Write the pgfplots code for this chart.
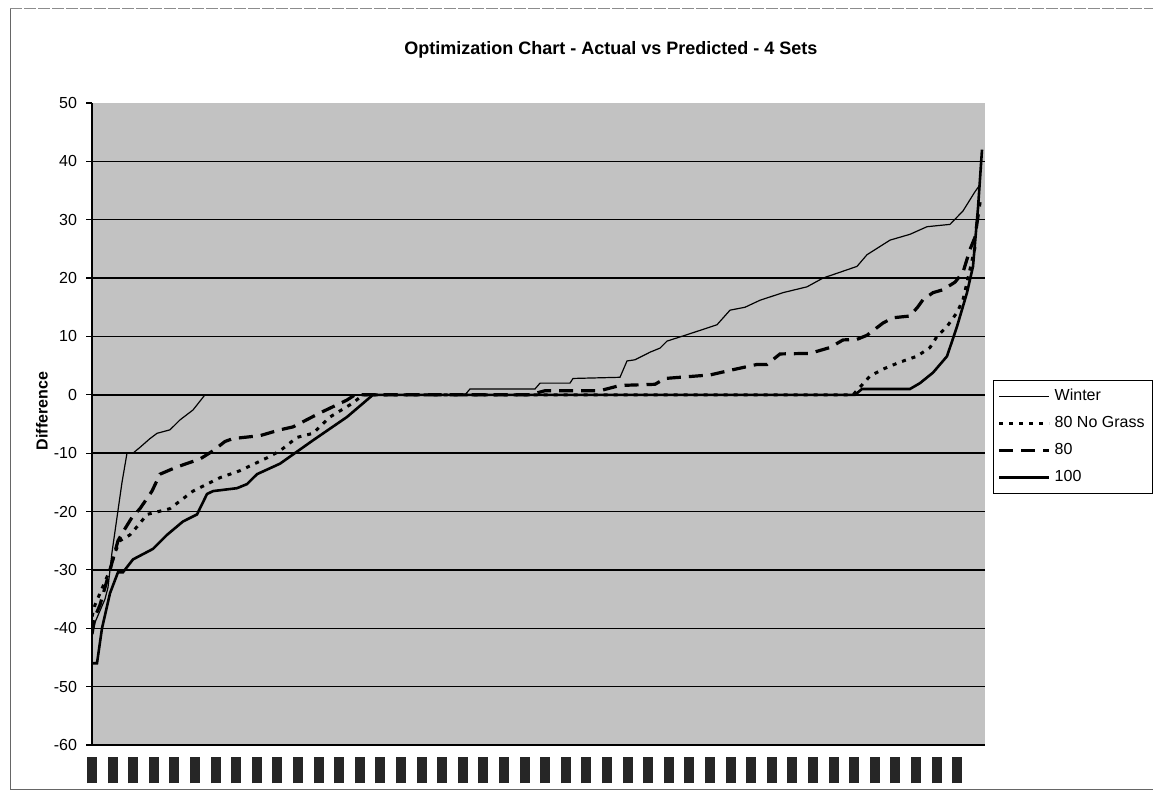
\documentclass[border=0pt]{standalone}
\usepackage{fontspec}
\setmainfont{Liberation Sans}
\usepackage{pgfplots}
\pgfplotsset{compat=1.18}
\definecolor{plotbg}{RGB}{194,194,194}
\begin{document}
\begin{tikzpicture}
\path[use as bounding box] (0,0) rectangle (576.5pt,401pt);
\draw[black!60, line width=0.5pt] (576.5pt,6pt) -- (5pt,6pt) -- (5pt,397pt);
\draw[black!45, line width=0.4pt, dash pattern=on 6pt off 1pt] (5pt,397pt) -- (576.5pt,397pt);
\begin{axis}[
  at={(46pt,28.5pt)}, anchor=south west,
  scale only axis, width=446.5pt, height=321pt,
  xmin=92, xmax=985, ymin=-60, ymax=50,
  axis background/.style={fill=plotbg},
  axis x line*=bottom, axis y line*=left,
  axis line style={-, black, line width=0.7pt},
  ytick={-60,-50,...,40},
  extra y ticks={50}, extra y tick style={ymajorgrids=false, yminorgrids=false},
  ymajorgrids, major grid style={black, line width=0.7pt},
  tick align=outside, ytick style={black, line width=0.6pt}, major tick length=3pt,
  xtick={92,112.6,...,960}, xtick style={draw=none},
  xticklabel={\textcolor{black!85}{\rule{5pt}{13pt}}},
  xticklabel style={anchor=north, inner sep=0pt, yshift=-3pt},
  yticklabel style={font=\fontsize{8}{9.6}\selectfont, xshift=-1pt},
  /pgf/number format/assume math mode=true,
  ylabel={\textbf{Difference}},
  ylabel style={font=\fontsize{8}{9.6}\selectfont, at={(axis description cs:-0.056,0.52)}, anchor=center},
  title={\textbf{Optimization Chart - Actual vs Predicted - 4 Sets}},
  title style={font=\fontsize{9}{11}\selectfont, at={(axis description cs:0.581,1)}, anchor=center, yshift=20.5pt},
  legend style={at={(1.009,0.569)}, anchor=north west, draw=black, line width=0.5pt, fill=white,
    font=\fontsize{8}{9.6}\selectfont, row sep=2.4pt, inner xsep=2pt, inner ysep=2.5pt,
    legend cell align=left},
  legend image code/.code={\draw[#1] (0pt,0pt) -- (25pt,0pt);},
]
\addplot[black, line width=0.6pt] coordinates {
(92,-41) (95,-39) (100,-37) (105,-35) (108,-33) (112,-27) (117,-21) (122,-15) (127,-10)
(133,-10) (140,-9) (150,-7.5) (157,-6.6) (170,-6) (180,-4.3) (193,-2.6) (205,0)
(465,0) (470,1) (535,1) (540,2) (570,2) (573,2.8) (620,3) (627,5.8) (635,6) (650,7.3)
(660,8) (667,9.2) (687,10.3) (717,12) (730,14.5) (745,15) (760,16.2) (783,17.5)
(807,18.5) (823,20) (840,21) (857,22) (867,24) (890,26.5) (910,27.5) (927,28.8)
(950,29.2) (963,31.5) (975,34.8) (980,36)
};
\addlegendentry{Winter}
\addplot[black, line width=1.5pt, dash pattern=on 2pt off 3pt] coordinates {
(92,-38) (95,-36) (100,-34) (105,-32) (110,-30) (115,-27) (120,-25) (130,-24) (140,-22)
(147,-20.5) (170,-19.5) (193,-16.5) (220,-14.2) (240,-13) (267,-10.8) (280,-9.6)
(297,-7.3) (313,-6.6) (330,-3.8) (353,-1.4) (363,0)
(853,0) (870,3.2) (883,4.4) (900,5.6) (917,6.6) (930,8.1) (937,10) (947,11.7)
(957,14.1) (963,16.3) (968,20) (972,23) (976,26)
};
\addlegendentry{80 No Grass}
\addplot[black, line width=1.6pt, dash pattern=on 7pt off 4pt] coordinates {
(92,-41) (95,-38) (100,-36) (105,-33) (110,-30) (118,-25) (123,-23.5) (132,-21) (140,-19.5)
(152,-16.5) (160,-13.6) (175,-12.5) (183,-12) (200,-11) (213,-9.6) (225,-8) (233,-7.5)
(260,-7) (280,-6) (293,-5.5) (320,-3.1) (347,-0.9) (355,0)
(530,0) (545,0.7) (600,0.7) (620,1.6) (655,1.8) (665,2.8) (710,3.4) (733,4.3) (757,5.2)
(767,5.2) (780,7) (810,7.1) (830,8.1) (843,9.4) (857,9.5) (867,10.2) (883,12.3)
(893,13.2) (910,13.5) (918,15.1) (923,16.3) (933,17.5) (943,18) (955,19.3) (963,21)
(970,24.9) (975,27) (980,33)
};
\addlegendentry{80}
\addplot[black, line width=1.3pt] coordinates {
(92,-46) (97,-46) (102,-40) (110,-34) (118,-30.4) (123,-30.4) (133,-28.2) (153,-26.4)
(167,-24) (183,-21.7) (197,-20.5) (207,-17) (213,-16.5) (237,-16) (247,-15.3)
(257,-13.6) (280,-11.8) (313,-7.8) (347,-3.8) (373,0)
(855,0) (862,1) (910,1) (920,2) (933,3.8) (947,6.6) (957,11.7) (967,17.5) (973,22)
(978,32) (982,42)
};
\addlegendentry{100}
\end{axis}
\end{tikzpicture}
\end{document}
